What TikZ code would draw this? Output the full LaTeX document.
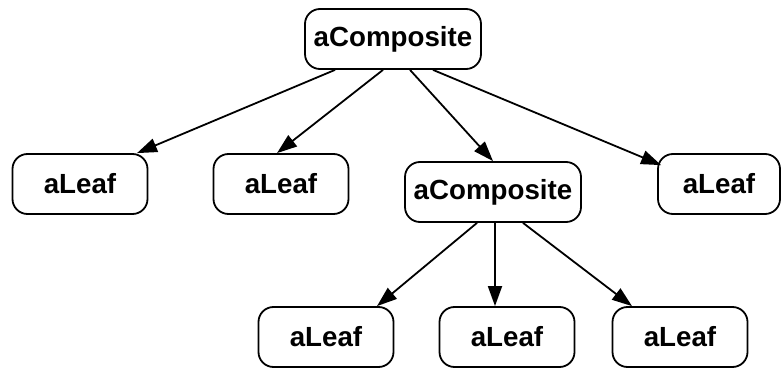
\documentclass[tikz,border=0pt]{standalone}
\usepackage{fontspec}
\setmainfont{Liberation Sans}
\usetikzlibrary{arrows.meta}
\begin{document}
\begin{tikzpicture}[x=1pt,y=-1pt,
  obj/.style={draw, line width=1.8pt, rounded corners=15pt, inner sep=0pt,
    minimum height=60pt, font=\fontsize{27.7}{32}\selectfont\bfseries},
  leaf/.style={obj, minimum width=135pt},
  comp/.style={obj, minimum width=176pt},
  link/.style={line width=1.8pt, -{Triangle[length=20pt,width=14pt]}}]
  \useasboundingbox (0,0) rectangle (782,369);
  % object structure: composites holding leaves
  \node[comp] (root) at (393,39) {aComposite};
  \node[leaf] (l1) at (80,184) {aLeaf};
  \node[leaf] (l2) at (281,184) {aLeaf};
  \node[comp] (c2) at (493,192) {aComposite};
  \node[leaf, minimum width=122pt] (l3) at (719,184) {aLeaf};
  \node[leaf] (b1) at (326,337) {aLeaf};
  \node[leaf] (b2) at (507,337) {aLeaf};
  \node[leaf] (b3) at (680,337) {aLeaf};
  % child references
  \draw[link] ([xshift=-58pt]root.south) -- ([xshift=57pt]l1.north);
  \draw[link] ([xshift=-10pt]root.south) -- ([xshift=-4pt]l2.north);
  \draw[link] ([xshift=17pt]root.south) -- (c2.north);
  \draw[link] ([xshift=40pt]root.south) -- ([shift={(4,12)}]l3.north west);
  \draw[link] ([xshift=-16pt]c2.south) -- ([xshift=51pt]b1.north);
  \draw[link] ([xshift=2pt]c2.south) -- ([xshift=-12pt]b2.north);
  \draw[link] ([xshift=30pt]c2.south) -- ([xshift=-48pt]b3.north);
\end{tikzpicture}
\end{document}
